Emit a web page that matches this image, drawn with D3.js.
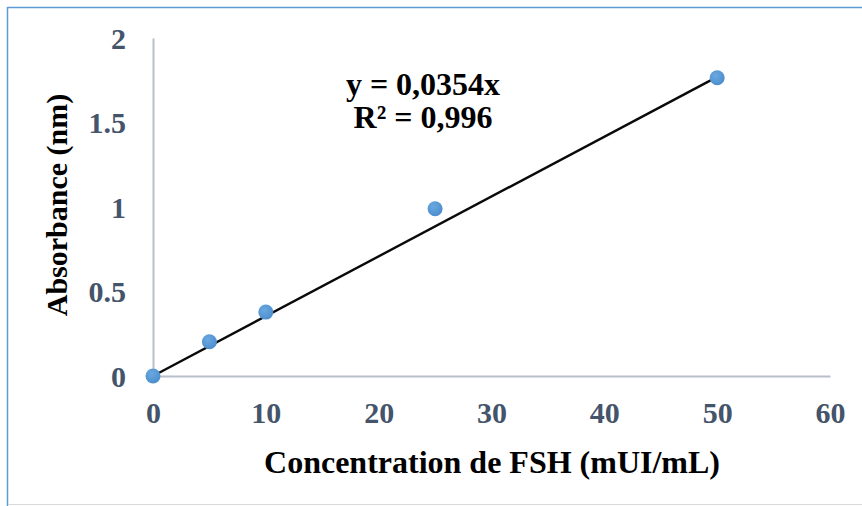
<!DOCTYPE html>
<html><head><meta charset="utf-8">
<script src="https://cdn.jsdelivr.net/npm/d3@7"></script>
<style>body{margin:0;background:#fff}svg{display:block}</style>
</head><body>
<script>
const concentrations = [0, 5, 10, 25, 50];
const absorbances = [0, 0.203, 0.378, 0.99, 1.765];
const xTicks = [0, 10, 20, 30, 40, 50, 60];
const yTicks = [0, 0.5, 1, 1.5, 2];
const slope = 0.0354;
const equationLines = ["y = 0,0354x", "R\u00b2 = 0,996"];
const xTitle = "Concentration de FSH (mUI/mL)";
const yTitle = "Absorbance (nm)";

const W = 862, H = 506;
const svg = d3.select("body").append("svg").attr("width", W).attr("height", H);
const font = "'Liberation Serif', 'Times New Roman', serif";

// outer frame
svg.append("line").attr("x1", 7.5).attr("y1", 7.5).attr("x2", W).attr("y2", 7.5).attr("stroke", "#5b9bd5").attr("stroke-width", 1.5);
svg.append("line").attr("x1", 7.5).attr("y1", 7).attr("x2", 7.5).attr("y2", H).attr("stroke", "#5b9bd5").attr("stroke-width", 1.5);
svg.append("line").attr("x1", 8).attr("y1", 504.5).attr("x2", W).attr("y2", 504.5).attr("stroke", "#d9d9d9").attr("stroke-width", 1);

const x = d3.scaleLinear().domain([0, 60]).range([153, 830]);
const y = d3.scaleLinear().domain([0, 2]).range([376, 38]);

const axisColor = "#b8c0cc";
const tickColor = "#44546a";

// y axis
const ya = svg.append("g").attr("transform", `translate(${x(0)},0)`)
  .call(d3.axisLeft(y).tickValues(yTicks).tickSize(0).tickPadding(27).tickFormat(d3.format("")));
ya.select(".domain").attr("stroke", axisColor).attr("stroke-width", 2);
ya.selectAll("text").attr("font-family", font).attr("font-weight", "bold").attr("font-size", 30).attr("fill", tickColor).attr("dy", "0.34em");

// x axis
const xa = svg.append("g").attr("transform", `translate(0,${y(0)})`)
  .call(d3.axisBottom(x).tickValues(xTicks).tickSize(0).tickPadding(0).tickFormat(d3.format("")));
xa.select(".domain").attr("stroke", axisColor).attr("stroke-width", 2);
xa.selectAll("text").attr("font-family", font).attr("font-weight", "bold").attr("font-size", 30).attr("fill", tickColor).attr("dy", null).attr("y", 47);

// trendline
const xMax = d3.max(concentrations);
svg.append("line")
  .attr("x1", x(0)).attr("y1", y(0))
  .attr("x2", x(xMax)).attr("y2", y(slope * xMax))
  .attr("stroke", "#0a0a0a").attr("stroke-width", 2.4);

// points
const grad = svg.append("defs").append("radialGradient").attr("id", "pg").attr("cx", "40%").attr("cy", "35%").attr("r", "70%");
grad.append("stop").attr("offset", "0%").attr("stop-color", "#6aa8e0");
grad.append("stop").attr("offset", "100%").attr("stop-color", "#4a8ccc");
svg.append("g").selectAll("circle").data(concentrations).join("circle")
  .attr("cx", (d) => x(d)).attr("cy", (d, i) => y(absorbances[i]))
  .attr("r", 7.5).attr("fill", "url(#pg)");

// equation
svg.append("text").attr("x", 423).attr("y", 95).attr("text-anchor", "middle")
  .attr("font-family", font).attr("font-weight", "bold").attr("font-size", 32).attr("fill", "#000").text(equationLines[0]);
svg.append("text").attr("x", 423).attr("y", 128).attr("text-anchor", "middle")
  .attr("font-family", font).attr("font-weight", "bold").attr("font-size", 32).attr("fill", "#000").text(equationLines[1]);

// axis titles
svg.append("text").attr("x", 492).attr("y", 473).attr("text-anchor", "middle")
  .attr("font-family", font).attr("font-weight", "bold").attr("font-size", 32).attr("fill", "#000").text(xTitle);
svg.append("text").attr("transform", "translate(67,205) rotate(-90)").attr("text-anchor", "middle")
  .attr("font-family", font).attr("font-weight", "bold").attr("font-size", 30).attr("fill", "#000").text(yTitle);
</script>
</body></html>
